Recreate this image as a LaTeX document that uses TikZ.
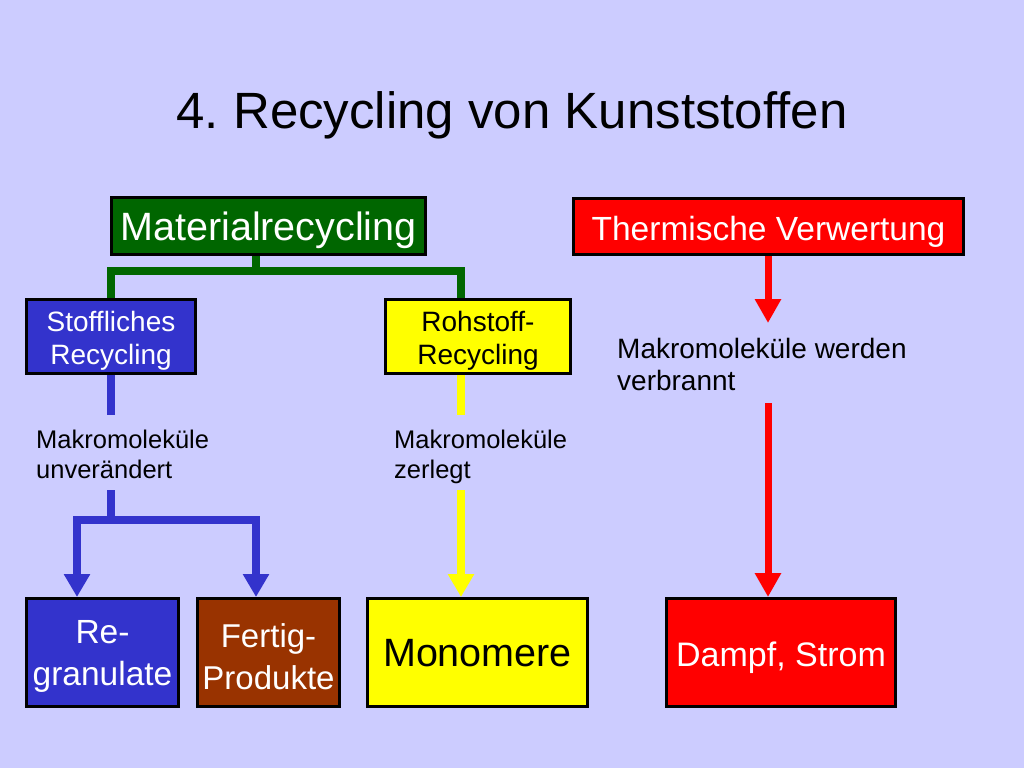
\documentclass[tikz,border=0pt]{standalone}
\usepackage{fontspec}
\setmainfont{Liberation Sans}
\usetikzlibrary{arrows.meta}
\definecolor{bg}{RGB}{204,204,255}
\definecolor{mgreen}{RGB}{0,102,0}
\definecolor{mblue}{RGB}{51,51,204}
\definecolor{myellow}{RGB}{255,255,0}
\definecolor{mbrown}{RGB}{153,51,0}
\definecolor{mred}{RGB}{255,0,0}
\newcommand{\fsz}[2]{\fontsize{#1}{#2}\selectfont}
\frenchspacing
\begin{document}
\begin{tikzpicture}[x=1pt,y=-1pt,
  box/.style={draw=black,line width=3pt,inner sep=0pt},
  txt/.style={inner sep=0pt,align=center},
  conn/.style={line width=8pt,line cap=butt,line join=miter},
  tipd/.style={-{Triangle[width=25pt,length=23pt]}},
  lbl/.style={anchor=north west,inner sep=0pt,align=left,text=black}]
\fill[bg] (0,0) rectangle (1024,768);
\useasboundingbox (0,0) rectangle (1024,768);

% title
\node[anchor=base,inner sep=0pt,font=\fsz{51}{60}] (title) at (512,128) {4. Recycling von Kunststoffen};

% boxes
\node[box,fill=mgreen,minimum width=314pt,minimum height=57pt,
  label={[txt,text=white,font=\fsz{39.5}{44},yshift=-4pt]center:Materialrecycling}] (mat) at (268.5,226) {};
\node[box,fill=mred,minimum width=390pt,minimum height=56pt,
  label={[txt,text=white,font=\fsz{33.5}{38},yshift=-5pt]center:Thermische Verwertung}] (therm) at (768.5,226.5) {};
\node[box,fill=mblue,minimum width=169pt,minimum height=74pt,
  label={[txt,text=white,font=\fsz{28}{33},yshift=-4pt]center:Stoffliches\\Recycling}] (stoff) at (111,336.5) {};
\node[box,fill=myellow,minimum width=185pt,minimum height=74pt,
  label={[txt,text=black,font=\fsz{28}{33},yshift=-4pt]center:Rohstoff-\\Recycling}] (roh) at (478,336.5) {};
\node[box,fill=mblue,minimum width=152pt,minimum height=108pt,
  label={[txt,text=white,font=\fsz{33.5}{42},yshift=-4pt]center:Re-\\granulate}] (rg) at (102.5,652.5) {};
\node[box,fill=mbrown,minimum width=142pt,minimum height=108pt,
  label={[txt,text=white,font=\fsz{33}{42},yshift=-4pt]center:Fertig-\\Produkte}] (fp) at (268.5,652.5) {};
\node[box,fill=myellow,minimum width=220pt,minimum height=108pt,
  label={[txt,text=black,font=\fsz{39.5}{44},yshift=-1pt]center:Monomere}] (mono) at (477.5,652.5) {};
\node[box,fill=mred,minimum width=229pt,minimum height=108pt,
  label={[txt,text=white,font=\fsz{34}{40},yshift=-5pt]center:Dampf, Strom}] (dampf) at (781,652.5) {};

% labels
\node[lbl,font=\fsz{25.5}{30}] (l1) at (36,430) {Makromoleküle\\unverändert};
\node[lbl,font=\fsz{25.5}{30}] (l2) at (394,430) {Makromoleküle\\zerlegt};
\node[lbl,font=\fsz{28}{32}] (l3) at (617,338) {Makromoleküle werden\\verbrannt};

% coordinates
\coordinate (gj) at (256,271);
\coordinate (rx) at (461,0);
\coordinate (b1) at (111,415);
\coordinate (b2) at (111,490);
\coordinate (bj) at (111,520);
\coordinate (bx1) at (77,0);
\coordinate (bx2) at (256,0);
\coordinate (y1) at (461,415);
\coordinate (y2) at (461,490);
\coordinate (r1) at (768,323);
\coordinate (r2) at (768,403);

% green
\draw[conn,mgreen] (mat.south -| gj) -- (gj);
\draw[conn,mgreen] (stoff.north) |- (gj) -| (roh.north -| rx);

% blue
\draw[conn,mblue] (stoff.south) -- (b1);
\draw[conn,mblue] (b2) -- (bj);
\draw[conn,mblue,tipd] (bj) -| (rg.north -| bx1);
\draw[conn,mblue,tipd] (bj) -| (fp.north -| bx2);

% yellow
\draw[conn,myellow] (roh.south -| rx) -- (y1);
\draw[conn,myellow,tipd] (y2) -- (mono.north -| rx);

% red
\draw[conn,mred,line width=7pt,-{Triangle[width=25pt,length=24pt]}] (therm.south -| r1) -- (r1);
\draw[conn,mred,line width=7pt,-{Triangle[width=25pt,length=24pt]}] (r2) -- (dampf.north -| r2);
\end{tikzpicture}
\end{document}
